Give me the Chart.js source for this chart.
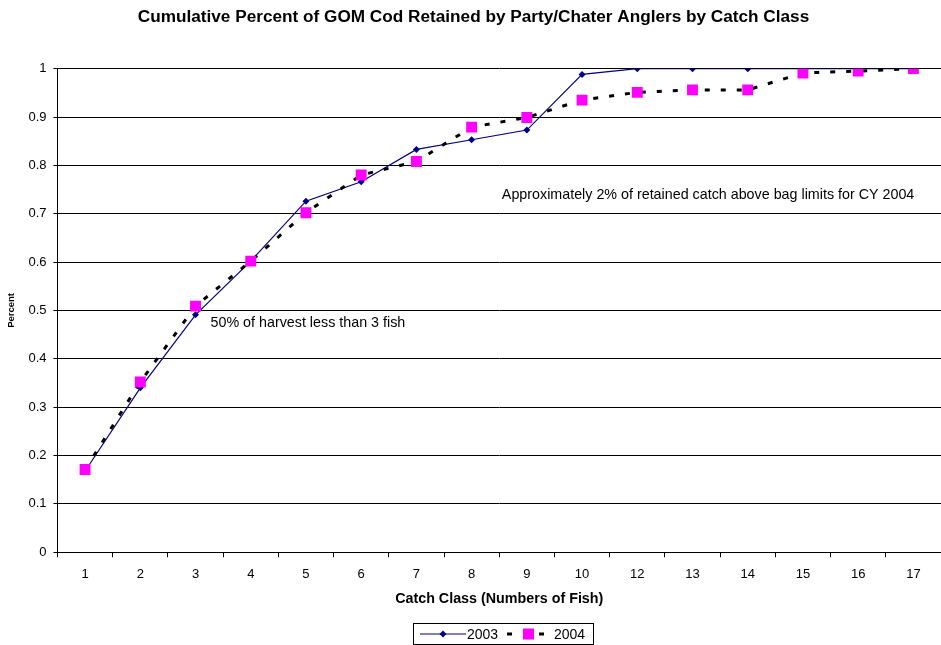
<!DOCTYPE html>
<html>
<head>
<meta charset="utf-8">
<script src="https://cdn.jsdelivr.net/npm/chart.js@4/dist/chart.umd.min.js"></script>
<style>
  body { margin: 0; background: #fff; }
  #wrap { position: relative; width: 941px; height: 645px; }
  #legend {
    position: absolute; left: 413px; top: 623px; width: 181px; height: 22px;
    border: 1px solid #000; box-sizing: border-box;
    font: 14px "Liberation Sans", Arial, sans-serif; color: #000;
  }
  #legend svg, #legend span { position: absolute; top: 50%; transform: translateY(-50%); display: block; }
</style>
</head>
<body>
<div id="wrap">
  <canvas id="chart" width="941" height="645"></canvas>
  <div id="legend">
    <svg style="left:6px" width="48" height="12"><line x1="0" y1="6" x2="46" y2="6" stroke="#000080" stroke-width="1"/><polygon points="23,2.5 26.5,6 23,9.5 19.5,6" fill="#000080"/></svg>
    <span style="left:53px">2003</span>
    <svg style="left:93px" width="40" height="12"><line x1="0" y1="6" x2="5" y2="6" stroke="#000" stroke-width="3"/><rect x="16" y="0.5" width="11" height="11" fill="#FF00FF"/><line x1="32" y1="6" x2="37" y2="6" stroke="#000" stroke-width="3"/></svg>
    <span style="left:140px">2004</span>
  </div>
</div>
<script>
// 데이터
const catchClasses = ['1', '2', '3', '4', '5', '6', '7', '8', '9', '10', '12', '13', '14', '15', '16', '17']
const cum2003 = [0.168, 0.340, 0.491, 0.602, 0.726, 0.766, 0.833, 0.853, 0.873, 0.988, 1.0, 1.0, 1.0, 1.0, 1.0, 1.0]
const cum2004 = [0.171, 0.352, 0.509, 0.602, 0.702, 0.780, 0.808, 0.879, 0.899, 0.935, 0.951, 0.956, 0.956, 0.991, 0.995, 1.0]
const yTicks = [0, 0.1, 0.2, 0.3, 0.4, 0.5, 0.6, 0.7, 0.8, 0.9, 1]

const notes = [
    { text: '50% of harvest less than 3 fish', cat: 2, value: 0.473, dx: 15 },
    { text: 'Approximately 2% of retained catch above bag limits for CY 2004', cat: 8, value: 0.738, dx: -25 }
]

const font = '"Liberation Sans", Arial, sans-serif'

const notesPlugin = {
    id: 'notes',
    afterDatasetsDraw(chart) {
        const ctx = chart.ctx
        const xs = chart.scales.x
        const ys = chart.scales.y
        ctx.save()
        ctx.font = `14.3px ${font}`
        ctx.fillStyle = '#000'
        ctx.textBaseline = 'middle'
        ctx.textAlign = 'left'
        notes.forEach(n => {
            ctx.fillText(n.text, xs.getPixelForValue(n.cat) + n.dx, ys.getPixelForValue(n.value))
        })
        ctx.restore()
    }
}

new Chart(document.getElementById('chart'), {
    type: 'line',
    data: {
        labels: catchClasses,
        datasets: [
            {
                label: '2003',
                data: cum2003,
                borderColor: '#000080',
                backgroundColor: '#000080',
                borderWidth: 1.2,
                pointStyle: 'rectRot',
                pointRadius: 3.5,
                pointBorderWidth: 0,
                tension: 0,
                order: 1
            },
            {
                label: '2004',
                data: cum2004,
                borderColor: '#000',
                backgroundColor: '#FF00FF',
                borderWidth: 3,
                borderDash: [5, 11],
                pointStyle: 'rect',
                pointRadius: 7.7,
                pointBorderWidth: 0,
                tension: 0,
                order: 0
            }
        ]
    },
    options: {
        responsive: false,
        animation: false,
        layout: { autoPadding: false, padding: { top: 0, right: 0, bottom: 37, left: 6 } },
        plugins: {
            legend: { display: false },
            tooltip: { enabled: false },
            title: {
                display: true,
                text: 'Cumulative Percent of GOM Cod Retained by Party/Chater Anglers by Catch Class',
                color: '#000',
                font: { family: font, size: 17.2, weight: 'bold' },
                padding: { top: 7, bottom: 41 }
            }
        },
        scales: {
            x: {
                offset: true,
                afterFit: axis => { axis.paddingRight = 0; axis.paddingLeft = 0 },
                grid: { display: true, drawOnChartArea: false, offset: true, color: '#000', tickLength: 5 },
                border: { color: '#000' },
                ticks: { color: '#000', font: { family: font, size: 13 }, padding: 9, maxRotation: 0 },
                title: {
                    display: true,
                    text: 'Catch Class (Numbers of Fish)',
                    color: '#000',
                    font: { family: font, size: 14.3, weight: 'bold' },
                    padding: { top: 0, bottom: 0 }
                }
            },
            y: {
                min: 0,
                max: 1,
                afterBuildTicks: axis => { axis.ticks = yTicks.map(v => ({ value: v })) },
                grid: { color: '#000', lineWidth: 1, tickLength: 4 },
                border: { color: '#000' },
                ticks: { color: '#000', font: { family: font, size: 13 }, padding: 7, callback: v => String(v) },
                title: {
                    display: true,
                    text: 'Percent',
                    color: '#000',
                    font: { family: font, size: 9.5, weight: 'bold' },
                    padding: { top: 0, bottom: 4 }
                }
            }
        }
    },
    plugins: [notesPlugin]
})
</script>
</body>
</html>
